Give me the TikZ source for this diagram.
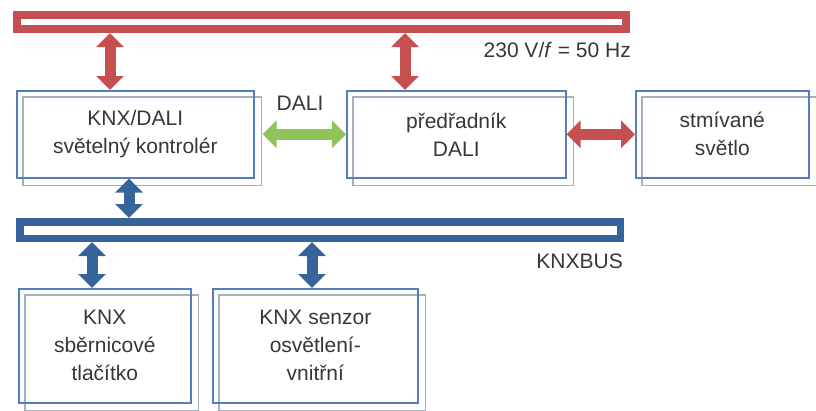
\documentclass[tikz,border=0pt]{standalone}
\usepackage{fontspec}
\setmainfont{Liberation Sans}
\usetikzlibrary{arrows.meta}
\definecolor{cred}{RGB}{198,80,80}
\definecolor{cblue}{RGB}{56,100,156}
\definecolor{cbox}{RGB}{86,126,190}
\definecolor{cshadow}{RGB}{165,176,192}
\definecolor{cgreen}{RGB}{142,196,88}
\definecolor{ctext}{RGB}{55,55,55}
\pgfdeclarelayer{bg}
\pgfsetlayers{bg,main}
\begin{document}
\begin{tikzpicture}[x=1pt,y=-1pt,
  boxnode/.style={draw=cbox, line width=1.6pt, inner sep=0pt, anchor=north west,
    align=center, text=ctext, font=\fontsize{21}{28}\selectfont},
  shadowline/.style={draw=cshadow, line width=1.6pt},
  busnode/.style={fill=white, inner sep=0pt, anchor=north west},
  fat/.style={line width=11pt,
    {Triangle[width=27pt,length=14pt]}-{Triangle[width=27pt,length=14pt]}},
  lbl/.style={text=ctext, font=\fontsize{21}{24}\selectfont, inner sep=0pt}]
\useasboundingbox (0,0) rectangle (816,410);
% buses
\node[busnode, draw=cred, line width=8pt, minimum width=609pt, minimum height=14pt] (power) at (13,11) {};
\node[busnode, draw=cblue, line width=7.5pt, minimum width=600.5pt, minimum height=16.5pt] (knxbus) at (16,218) {};
\node[lbl, anchor=east] (plabel) at (631,50) {230 V/\textit{f} = 50 Hz};
\node[lbl, anchor=east] (klabel) at (623,261) {KNXBUS};
% boxes
\node[boxnode, minimum width=237pt, minimum height=87pt] (b1) at (16,90) {KNX/DALI\\světelný kontrolér};
\node[boxnode, minimum width=219pt, minimum height=87pt] (b2) at (346,90) {předřadník\\DALI};
\node[boxnode, minimum width=173pt, minimum height=87pt] (b3) at (635,90) {stmívané\\světlo};
\node[boxnode, minimum width=172pt, minimum height=114pt] (b4) at (18,288) {KNX\\sběrnicové\\tlačítko};
\node[boxnode, minimum width=205pt, minimum height=114pt] (b5) at (212,288) {KNX senzor\\osvětlení-\\vnitřní};
\begin{pgfonlayer}{bg}
\foreach \b in {b1,b2,b3,b4,b5}
  \draw[shadowline] ([shift={(7,7)}]\b.north west) rectangle ([shift={(7,7)}]\b.south east);
\end{pgfonlayer}
\node[lbl] (dali) at (300,103) {DALI};
% connectors
\coordinate (xa) at (110,0);
\coordinate (xb) at (405,0);
\coordinate (xc) at (129,0);
\coordinate (xd) at (92,0);
\coordinate (xe) at (312,0);
\draw[fat, cred] (power.south -| xa) -- (b1.north -| xa);
\draw[fat, cred] (power.south -| xb) -- (b2.north -| xb);
\draw[fat, cgreen] ([xshift=8pt]b1.east) -- (b2.west);
\draw[fat, cred] (b2.east) -- (b3.west);
\draw[fat, cblue] (b1.south -| xc) -- (knxbus.north -| xc);
\draw[fat, cblue] (knxbus.south -| xd) -- (b4.north -| xd);
\draw[fat, cblue] (knxbus.south -| xe) -- (b5.north -| xe);
\end{tikzpicture}
\end{document}
